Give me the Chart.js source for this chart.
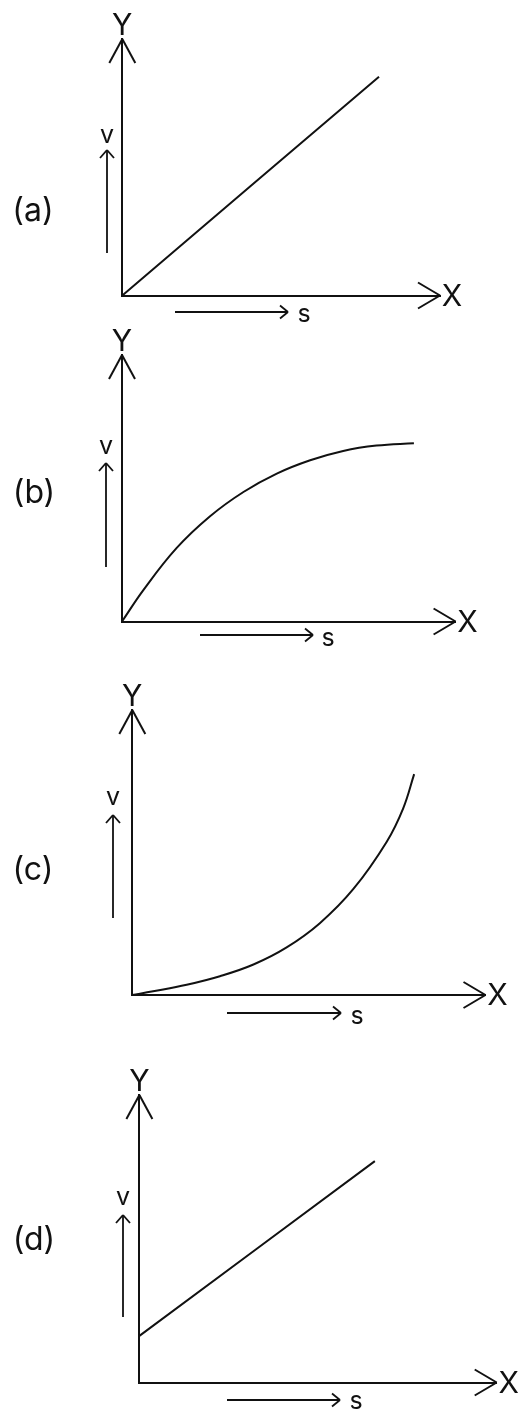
<!DOCTYPE html>
<html><head><meta charset="utf-8">
<script src="https://cdn.jsdelivr.net/npm/chart.js@4.4.1/dist/chart.umd.min.js"></script>
<style>
html,body{margin:0;padding:0;background:#fff;width:532px;height:1427px;overflow:hidden}
canvas{position:absolute;left:0}
</style></head><body>
<canvas id="c0"></canvas><canvas id="c1"></canvas><canvas id="c2"></canvas><canvas id="c3"></canvas>
<script>
// ---- data (axis units: 0..10 from origin to arrow tip) ----
const panelNames = ['(a)', '(b)', '(c)', '(d)'];
const axisXLabel = 'X';
const axisYLabel = 'Y';
const qtyX = 's';
const qtyY = 'v';

const aS = [0, 8.08];
const aV = [0, 8.53];

const bS = [0, 0.64, 1.64, 2.64, 3.64, 4.64, 5.64, 6.63, 7.63, 8.75];
const bV = [0, 1.18, 2.76, 3.95, 4.86, 5.55, 6.05, 6.40, 6.60, 6.69];

const cS = [0, 0.59, 1.54, 2.48, 3.43, 4.37, 5.31, 6.26, 7.20, 7.67, 7.98];
const cV = [0, 0.13, 0.36, 0.66, 1.07, 1.67, 2.52, 3.72, 5.37, 6.55, 7.75];

const dS = [0, 6.59];
const dV = [1.62, 7.70];

const seriesS = [aS, bS, cS, dS];
const seriesV = [aV, bV, cV, dV];

// ---- layout (page pixels) ----
const layout = [
  {top:0,   bottom:326,  origin:[122.3,295.5], tip:[440,39],
   vArrow:[107,253,150], vLabel:[107,143], sArrow:[312,175,288], sLabel:[304,322], name:[33,211]},
  {top:326, bottom:662,  origin:[122,621.5], tip:[455.6,355],
   vArrow:[106,567,463], vLabel:[106,454], sArrow:[635,200,313], sLabel:[328,646], name:[34,493]},
  {top:662, bottom:1038, origin:[132.3,995], tip:[485.5,710],
   vArrow:[113,918,815], vLabel:[113,805], sArrow:[1013,227,341], sLabel:[357,1024], name:[33,870]},
  {top:1038,bottom:1427, origin:[139.4,1382.5], tip:[496.7,1095],
   vArrow:[123,1317,1215], vLabel:[123,1205], sArrow:[1400,227,340], sLabel:[356,1409], name:[34,1240]}
];
const INK = '#111111';
const FONT_AXIS = '30px Inter, "Noto Sans", sans-serif';
const FONT_NAME = '32px Inter, "Noto Sans", sans-serif';
const FONT_SMALL = '25px Inter, "Noto Sans", sans-serif';

function line(ctx, x1, y1, x2, y2) { ctx.beginPath(); ctx.moveTo(x1, y1); ctx.lineTo(x2, y2); ctx.stroke(); }

const decor = {
  id: 'decor',
  afterDraw(chart, args, opts) {
    const L = opts.L; const off = L.top;
    const ctx = chart.ctx;
    const xs = chart.scales.x, ys = chart.scales.y;
    const ox = xs.getPixelForValue(0), oy = ys.getPixelForValue(0);
    const tx = xs.getPixelForValue(10), ty = ys.getPixelForValue(10);
    ctx.save();
    ctx.strokeStyle = INK; ctx.fillStyle = INK; ctx.lineCap = 'butt';
    ctx.lineWidth = 2;
    line(ctx, ox, ty, ox - 13, ty + 24); line(ctx, ox, ty, ox + 13, ty + 24);
    line(ctx, tx, oy, tx - 22, oy - 13); line(ctx, tx, oy, tx - 22, oy + 13);
    ctx.font = FONT_AXIS; ctx.textBaseline = 'alphabetic'; ctx.textAlign = 'center';
    ctx.fillText(axisYLabel, ox, ty - 4);
    ctx.fillText(axisXLabel, tx + 12, oy + 10);
    ctx.font = FONT_NAME; ctx.textBaseline = 'middle';
    ctx.fillText(opts.name, L.name[0], L.name[1] - off);
    ctx.lineWidth = 1.8;
    const [vx, vy1, vy2] = L.vArrow;
    line(ctx, vx, vy1 - off, vx, vy2 - off);
    line(ctx, vx, vy2 - off, vx - 7, vy2 - off + 8); line(ctx, vx, vy2 - off, vx + 7, vy2 - off + 8);
    const [sy, sx1, sx2] = L.sArrow;
    line(ctx, sx1, sy - off, sx2, sy - off);
    line(ctx, sx2, sy - off, sx2 - 8, sy - off - 6.5); line(ctx, sx2, sy - off, sx2 - 8, sy - off + 6.5);
    ctx.font = FONT_SMALL; ctx.textBaseline = 'alphabetic';
    ctx.fillText(qtyY, L.vLabel[0], L.vLabel[1] - off);
    ctx.fillText(qtyX, L.sLabel[0], L.sLabel[1] - off);
    ctx.restore();
  }
};

layout.forEach((L, i) => {
  const cv = document.getElementById('c' + i);
  const h = L.bottom - L.top;
  cv.width = 532; cv.height = h;
  cv.style.top = L.top + 'px'; cv.style.width = '532px'; cv.style.height = h + 'px';
  const pts = seriesS[i].map((s, k) => ({x: s, y: seriesV[i][k]}));
  new Chart(cv, {
    type: 'scatter',
    data: { datasets: [{
      data: pts, showLine: true, borderColor: INK, borderWidth: 2,
      pointRadius: 0, fill: false, tension: 0.4, clip: false
    }]},
    options: {
      responsive: false, animation: false, devicePixelRatio: 1,
      layout: { padding: {
        left: L.origin[0], right: 532 - L.tip[0],
        top: L.tip[1] - L.top, bottom: L.bottom - L.origin[1]
      }},
      plugins: { legend: {display: false}, tooltip: {enabled: false}, decor: {L: L, name: panelNames[i]} },
      scales: {
        x: { type: 'linear', min: 0, max: 10,
             grid: {display: false, drawTicks: false}, ticks: {display: false},
             border: {display: true, color: INK, width: 2} },
        y: { type: 'linear', min: 0, max: 10,
             grid: {display: false, drawTicks: false}, ticks: {display: false},
             border: {display: true, color: INK, width: 2} }
      }
    },
    plugins: [decor]
  });
});
</script>
</body></html>
